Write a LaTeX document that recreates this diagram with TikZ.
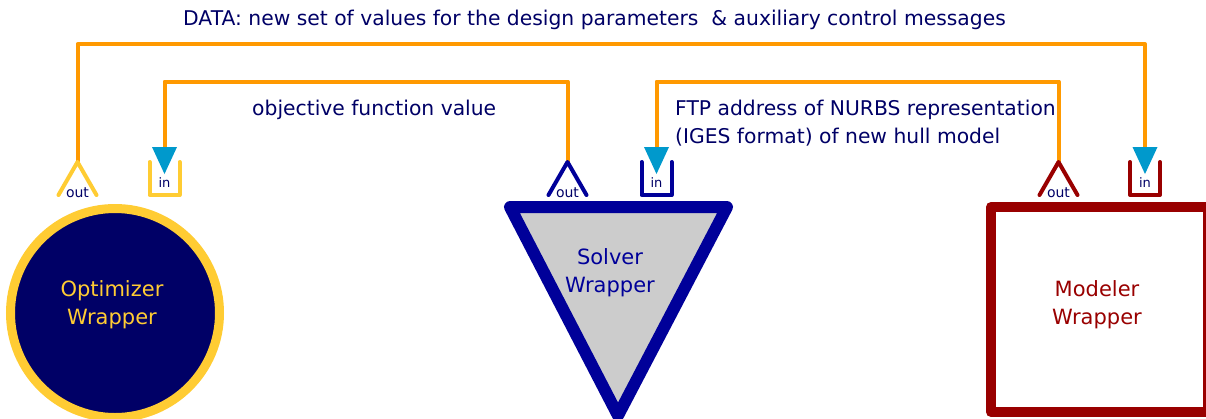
\documentclass[tikz,border=0pt]{standalone}
\usepackage{fontspec}
\setmainfont{DejaVu Sans}
\usetikzlibrary{calc}

\definecolor{wireorange}{HTML}{FF9900}
\definecolor{optgold}{HTML}{FFCC33}
\definecolor{optnavy}{HTML}{000066}
\definecolor{solblue}{HTML}{000099}
\definecolor{solgray}{HTML}{CCCCCC}
\definecolor{modred}{HTML}{990000}
\definecolor{feedcyan}{HTML}{0099CC}

\begin{document}
\begin{tikzpicture}[x=1bp,y=-1bp,
    every node/.style={inner sep=0pt,text=optnavy,
        font=\fontsize{20.3bp}{28bp}\selectfont},
    wire/.style={draw=wireorange,line width=4bp,line join=round},
    portline/.style={line width=4bp,line cap=round,line join=round},
    tag/.style={anchor=base,font=\fontsize{14bp}{14bp}\selectfont},
    wrapper/.style={align=center,font=\fontsize{21bp}{28bp}\selectfont}
  ]
  \useasboundingbox (0,0) rectangle (1206,418);
  \clip (0,0) rectangle (1206,418);

  \coordinate (rail1) at (0,44);
  \coordinate (rail2) at (0,81.5);

  % port positions
  \foreach \n/\xo/\xi in {opt/77.5/164.5,sol/567.5/656.5,mod/1058.5/1145}{
    \coordinate (\n out) at (\xo,162);
    \coordinate (\n in)  at (\xi,147);
  }

  % wires
  \draw[wire] (optout) -- (optout |- rail1) -| (modin);
  \draw[wire] (solout) -- (solout |- rail2) -| (optin);
  \draw[wire] (modout) -- (modout |- rail2) -| (solin);

  % ports
  \foreach \n/\xo/\xi/\c in {opt/77.5/164.5/optgold,sol/567.5/656.5/solblue,
                             mod/1058.5/1145/modred}{
    \draw[portline,\c] (\xo-19,195) -- (\n out) -- (\xo+19,195);
    \node[tag] (\n outtag) at (\xo,197) {out};
    \draw[portline,\c] (\xi-15,162) -- (\xi-15,195) -- (\xi+15,195) -- (\xi+15,162);
    \fill[feedcyan] (\xi-12.5,147) -- (\xi+12.5,147) -- (\xi,174) -- cycle;
    \node[tag,font=\fontsize{13bp}{13bp}\selectfont] (\n intag) at (\xi,187) {in};
  }

  % wrappers
  \node[circle,draw=optgold,fill=optnavy,line width=9bp,minimum size=209bp]
    (opt) at (115,313) {};
  \node[wrapper,text=optgold] (optlbl) at (112,304.5) {Optimizer\\Wrapper};

  \filldraw[fill=solgray,draw=solblue,line width=12bp,line join=round]
    (510,207) -- (727,207) -- (618,415.5) -- cycle;
  \node[wrapper,text=solblue] (sollbl) at (610,273) {Solver\\Wrapper};

  \node[draw=modred,fill=white,line width=10bp,line join=round,minimum width=217bp,
    minimum height=205bp] (mod) at (1099.5,309.5) {};
  \node[wrapper,text=modred] (modlbl) at (1097,304.5) {Modeler\\Wrapper};

  % messages
  \node[anchor=base west] (datalbl) at (183,25)
    {DATA: new set of values for the design parameters\ \ \& auxiliary control messages};
  \node[anchor=base west] (objlbl) at (252,115)
    {objective function value};
  \node[anchor=north west,align=left] (ftplbl) at (675,100)
    {FTP address of NURBS representation\\(IGES format) of new hull model};
\end{tikzpicture}
\end{document}
